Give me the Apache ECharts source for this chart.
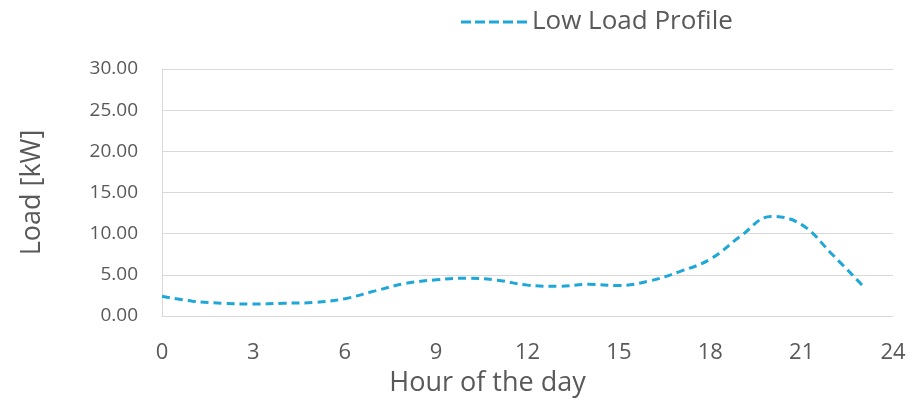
<!DOCTYPE html>
<html>
<head>
<meta charset="utf-8">
<script src="https://cdn.jsdelivr.net/npm/echarts@6/dist/echarts.min.js"></script>
<style>
  html, body { margin: 0; padding: 0; background: #fff; }
  #chart { width: 921px; height: 402px; }
</style>
</head>
<body>
<div id="chart"></div>
<script>
// hour of the day
const hours = [0, 1, 2, 3, 4, 5, 6, 7, 8, 9, 10, 11, 12, 13, 14, 15, 16, 17, 18, 19, 20, 21, 22, 23];
// load [kW]
const lowLoad = [2.4, 1.8, 1.55, 1.45, 1.55, 1.65, 2.1, 3.05, 3.95, 4.4, 4.6, 4.35, 3.75, 3.6, 3.85, 3.7, 4.25, 5.4, 6.9, 9.7, 12.1, 11.1, 7.5, 3.7];
const seriesName = "Low Load Profile";

const FONT = "'Open Sans', 'Liberation Sans', sans-serif";
const GREY = "#595959";
const LINE = "#1FA7D8";

// dashed legend key (5 dashes)
const DASH_ICON = "path://M0,0h10v3h-10z M14,0h10v3h-10z M28,0h10v3h-10z M42,0h10v3h-10z M56,0h10v3h-10z";

const chart = echarts.init(document.getElementById("chart"), null, { renderer: "canvas" });

chart.setOption({
  animation: false,
  backgroundColor: "#fff",
  textStyle: { fontFamily: FONT },
  legend: {
    left: 456,
    top: 4,
    itemWidth: 66,
    itemHeight: 3,
    itemGap: 8,
    textStyle: { color: GREY, fontSize: 26, fontFamily: FONT },
    data: [{ name: seriesName, icon: DASH_ICON }]
  },
  grid: { left: 162, right: 28, top: 69, bottom: 85 },
  xAxis: {
    type: "value",
    min: 0,
    max: 24,
    interval: 3,
    name: "Hour of the day",
    nameLocation: "middle",
    nameGap: 54,
    nameTextStyle: { color: GREY, fontSize: 27, fontFamily: FONT, padding: [0, 80, 0, 0] },
    axisLine: { lineStyle: { color: "#d9d9d9", width: 1 } },
    axisTick: { show: false },
    splitLine: { show: false },
    axisLabel: { color: GREY, fontSize: 22, margin: 26, fontFamily: FONT }
  },
  yAxis: {
    type: "value",
    min: 0,
    max: 30,
    interval: 5,
    name: "Load [kW]",
    nameLocation: "middle",
    nameRotate: 90,
    nameGap: 116,
    nameTextStyle: { color: GREY, fontSize: 27, fontFamily: FONT },
    axisLine: { show: true, lineStyle: { color: "#d9d9d9", width: 1 } },
    axisTick: { show: false },
    splitLine: { lineStyle: { color: "#d9d9d9", width: 1 } },
    axisLabel: {
      color: GREY,
      fontSize: 19,
      margin: 24,
      fontFamily: FONT,
      formatter: v => v.toFixed(2)
    }
  },
  series: [{
    name: seriesName,
    type: "line",
    data: hours.map((h, i) => [h, lowLoad[i]]),
    smooth: 0.4,
    symbol: "none",
    showSymbol: false,
    lineStyle: { color: LINE, width: 3, type: [8, 5] },
    itemStyle: { color: LINE }
  }]
});
</script>
</body>
</html>
